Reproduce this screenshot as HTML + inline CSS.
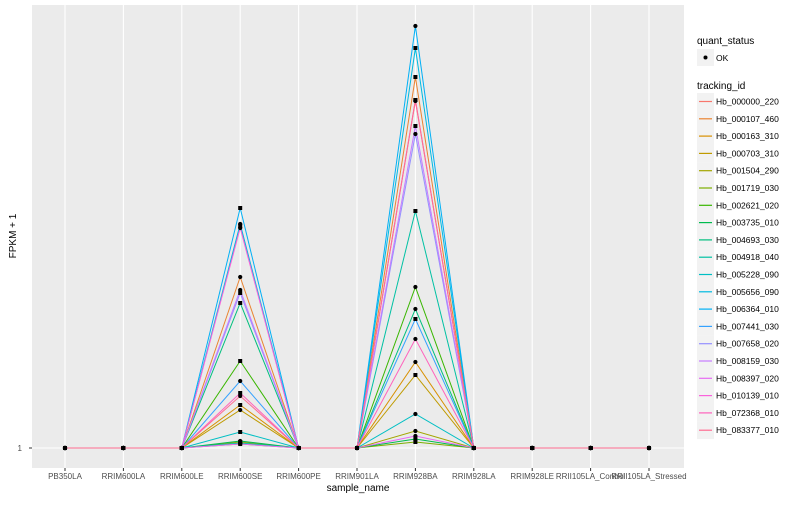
<!DOCTYPE html>
<html><head><meta charset="utf-8"><style>
body{margin:0;background:#fff;font-family:"Liberation Sans",sans-serif}
</style></head><body>
<svg width="800" height="500" xmlns="http://www.w3.org/2000/svg" font-family="Liberation Sans, sans-serif">
<rect x="0" y="0" width="800" height="500" fill="#fff"/>
<rect x="32" y="5" width="652" height="463" fill="#EBEBEB"/>
<g id="grid"></g><g id="lines"></g><g id="pts"></g><g id="xt"></g>
<text x="22" y="451" font-size="8" fill="#4D4D4D" text-anchor="end">1</text>
<line x1="29" x2="32" y1="448" y2="448" stroke="#333"/>
<text x="358" y="491" font-size="10" text-anchor="middle">sample_name</text>
<text transform="translate(16,236) rotate(-90)" font-size="10" text-anchor="middle">FPKM + 1</text>
<g>
<text x="697" y="44" font-size="10">quant_status</text>
<rect x="697" y="49" width="17" height="17" fill="#F2F2F2"/>
<circle cx="705.5" cy="57.5" r="2" fill="#000"/>
<text x="716" y="61" font-size="8.5">OK</text>
<text x="697" y="89" font-size="10">tracking_id</text>
<g id="leg"></g>
</g>
</svg>
<script>
const categories=["PB350LA","RRIM600LA","RRIM600LE","RRIM600SE","RRIM600PE","RRIM901LA","RRIM928BA","RRIM928LA","RRIM928LE","RRII105LA_Control","RRII105LA_Stressed"];
const ids=["Hb_000000_220","Hb_000107_460","Hb_000163_310","Hb_000703_310","Hb_001504_290","Hb_001719_030","Hb_002621_020","Hb_003735_010","Hb_004693_030","Hb_004918_040","Hb_005228_090","Hb_005656_090","Hb_006364_010","Hb_007441_030","Hb_007658_020","Hb_008159_030","Hb_008397_020","Hb_010139_010","Hb_072368_010","Hb_083377_010"];
const colors=["#F8766D","#EA8331","#D89000","#C09B00","#A3A500","#7CAE00","#39B600","#00BB4E","#00BF7D","#00C1A3","#00BFC4","#00BAE0","#00B0F6","#35A2FF","#9590FF","#C77CFF","#E76BF3","#FA62DB","#FF62BC","#FF6C91"];
// FPKM+1 at RRIM600SE and RRIM928BA (all other samples = 1)
const seVals=[223,172,44,39,7,5,88,8,146,6,17,225,241,68,156,159,5,221,56,53];
const baVals=[348,372,87,74,18,7,162,10,140,238,35,401,423,130,315,323,13,349,110,349];
const yTicks=[1];
const S="http://www.w3.org/2000/svg";
const x0=32,x1=684,y0=5,y1=468;
const xs=i=>65+i*58.4;
const ys=v=>448-(v-1);
function mk(t,a,p){const e=document.createElementNS(S,t);for(const k in a)e.setAttribute(k,a[k]);p.appendChild(e);return e;}
const grid=document.getElementById('grid'),xt=document.getElementById('xt');
yTicks.forEach(v=>{const l=mk('line',{x1:x0,x2:x1,y1:ys(v),y2:ys(v),stroke:'#fff','stroke-width':1.1},grid);

});
categories.forEach((c,i)=>{const l=mk('line',{x1:xs(i),x2:xs(i),y1:y0,y2:y1,stroke:'#fff','stroke-width':1.1},grid);


const t=mk('line',{x1:xs(i),x2:xs(i),y1:y1,y2:y1+3,stroke:'#333'},xt);


const tx=mk('text',{x:xs(i),y:y1+11,'font-size':8,fill:'#4D4D4D','text-anchor':'middle'},xt);tx.textContent=c;

});
const lines=document.getElementById('lines'),pts=document.getElementById('pts'),leg=document.getElementById('leg');
ids.forEach((id,s)=>{
 const vals=categories.map((c,i)=>i===3?seVals[s]:(i===6?baVals[s]:1));
 const p=mk('polyline',{points:vals.map((v,i)=>xs(i)+','+ys(v)).join(' '),fill:'none',stroke:colors[s],'stroke-width':1},lines);
 
 
 vals.forEach((v,i)=>{const c=(s+i)%2?mk('rect',{x:xs(i)-2,y:ys(v)-2,width:4,height:4,fill:'#000'},pts):mk('circle',{cx:xs(i),cy:ys(v),r:2.1,fill:'#000'},pts);
 
 });
 const y=93+s*17.3;
 const r=mk('rect',{x:697,y:y,width:17,height:17.4,fill:'#F2F2F2'},leg);
 
 
 mk('line',{x1:699,x2:712,y1:y+8.5,y2:y+8.5,stroke:colors[s],'stroke-width':1.2},leg);
 const t=mk('text',{x:716,y:y+11.5,'font-size':8.5},leg);t.textContent=id;
 
 
});
</script>
</body></html>
